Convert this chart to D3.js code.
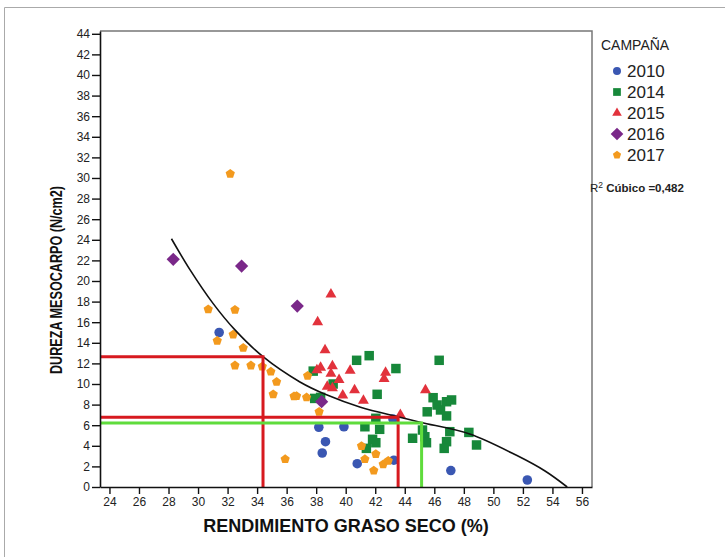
<!DOCTYPE html>
<html>
<head>
<meta charset="utf-8">
<script src="https://cdn.jsdelivr.net/npm/d3@7"></script>
<style>
  body { margin: 0; background: #fff; }
  svg { display: block; font-family: Arial, "Liberation Sans", sans-serif; }
  .tick text { fill: #222; font-size: 12px; }
</style>
</head>
<body>
<svg id="chart" width="725" height="557"></svg>
<script>
// values
const years = ["2010", "2014", "2015", "2016", "2017"];
const colors = ["#3a57b2", "#17883a", "#e2323c", "#7a2889", "#f39a1e"];

const pts2010 = [[31.43, 15.0], [38.18, 5.8], [38.63, 4.4], [38.41, 3.3], [39.88, 5.85], [40.78, 2.26],
  [43.26, 2.6], [43.2, 6.6], [47.12, 1.6], [52.3, 0.68]];
const pts2014 = [[37.8, 11.25], [37.9, 8.6], [38.3, 8.7], [39.15, 10.0], [40.74, 12.3], [41.59, 12.75],
  [43.4, 11.5], [42.13, 9.0], [46.33, 12.3], [42.04, 6.67], [41.3, 5.85], [42.3, 5.6], [41.82, 4.63],
  [42.04, 4.3], [41.4, 3.75], [44.53, 4.73], [45.2, 5.53], [45.36, 4.88], [45.47, 4.3], [45.92, 8.67],
  [46.19, 7.96], [46.83, 8.28], [47.17, 8.45], [45.52, 7.3], [46.42, 7.48], [46.83, 6.9], [47.05, 5.37],
  [46.83, 4.4], [46.67, 3.75], [48.34, 5.3], [48.86, 4.08]];
const pts2015 = [[38.1, 16.0], [39.0, 18.7], [38.6, 13.3], [38.3, 11.6], [38.05, 11.35], [39.1, 11.75],
  [39.0, 11.0], [39.55, 10.4], [40.3, 11.3], [38.75, 9.75], [39.1, 9.6], [40.6, 9.4], [42.7, 11.1],
  [42.6, 10.5], [45.4, 9.4], [39.8, 8.9], [41.2, 8.4], [43.7, 7.0]];
const pts2016 = [[28.32, 22.1], [32.95, 21.45], [36.72, 17.57], [38.37, 8.28]];
const pts2017 = [[32.18, 30.4], [30.69, 17.25], [32.5, 17.2], [31.3, 14.2], [32.38, 14.8], [33.06, 13.5],
  [32.5, 11.8], [33.58, 11.8], [34.35, 11.7], [34.93, 11.2], [35.32, 10.2], [35.09, 9.0], [36.67, 8.83],
  [36.5, 8.8], [37.35, 8.7], [37.42, 10.8], [38.2, 7.3], [35.9, 2.7], [41.07, 3.98], [42.04, 3.2],
  [41.3, 2.7], [42.54, 2.2], [42.88, 2.55], [41.9, 1.6]];

// cubic fit line
const fitX = [28.2, 29.45, 31, 32.5, 34.4, 36.9, 38.7, 41, 43.6, 45.1, 48.4, 51.6, 53.5, 55.0];
const fitY = [24.1, 21.1, 17.85, 15.25, 12.65, 10.2, 8.95, 7.75, 6.8, 6.27, 5.15, 3.05, 1.55, 0];

// guide lines: [x, y, colour]
const guides = [[34.4, 12.65, "#d7191f"], [43.55, 6.78, "#d7191f"], [45.14, 6.22, "#5fdc3c"]];

const xTicks = d3.range(24, 57, 2);
const yTicks = d3.range(0, 45, 2);

const svg = d3.select("#chart");

// outer frame
svg.append("path")
  .attr("d", "M4.5,557V7.5H725")
  .attr("fill", "none")
  .attr("stroke", "#aaa");

const x = d3.scaleLinear().domain([23.36, 56.68]).range([100, 592]);
const y = d3.scaleLinear().domain([0, 44.27]).range([487, 31]);

// top / right border of plot
svg.append("path")
  .attr("d", `M100,31H592V487`)
  .attr("fill", "none")
  .attr("stroke", "#777")
  .attr("stroke-width", 1.5);

const pentagon = {
  draw(ctx, size) {
    const r = Math.sqrt(size / 2.378);
    for (let i = 0; i < 5; i++) {
      const a = -Math.PI / 2 + i * 2 * Math.PI / 5;
      if (i === 0) ctx.moveTo(r * Math.cos(a), r * Math.sin(a));
      else ctx.lineTo(r * Math.cos(a), r * Math.sin(a));
    }
    ctx.closePath();
  }
};

const shapes = [
  {type: d3.symbolCircle, size: 72, rot: 0},
  {type: d3.symbolSquare, size: 90, rot: 0},
  {type: d3.symbolTriangle, size: 52, rot: 0},
  {type: d3.symbolSquare, size: 88, rot: 45},
  {type: pentagon, size: 56, rot: 0}
];

const series = [pts2010, pts2014, pts2015, pts2016, pts2017];

const marks = svg.append("g");
series.forEach((pts, i) => {
  marks.append("g").selectAll("path")
    .data(pts)
    .join("path")
    .attr("d", d3.symbol(shapes[i].type, shapes[i].size))
    .attr("transform", d => `translate(${x(d[0])},${y(d[1])}) rotate(${shapes[i].rot})`)
    .attr("fill", colors[i]);
});

// fit line
svg.append("path")
  .datum(d3.zip(fitX, fitY))
  .attr("d", d3.line().x(d => x(d[0])).y(d => y(d[1])).curve(d3.curveCatmullRom))
  .attr("fill", "none")
  .attr("stroke", "#111")
  .attr("stroke-width", 1.6);

// guide lines
guides.forEach(g => {
  svg.append("path")
    .attr("d", `M${x.range()[0]},${y(g[1])}H${x(g[0])}V${y(0)}`)
    .attr("fill", "none")
    .attr("stroke", g[2])
    .attr("stroke-width", 3);
});

// axes
const yAxis = svg.append("g")
  .attr("transform", "translate(100,0)")
  .call(d3.axisLeft(y).tickValues(yTicks).tickSize(8).tickSizeOuter(0).tickPadding(2));
const xAxis = svg.append("g")
  .attr("transform", "translate(0,487)")
  .call(d3.axisBottom(x).tickValues(xTicks).tickSize(7).tickSizeOuter(0).tickPadding(3));
[yAxis, xAxis].forEach(a => {
  a.select(".domain").attr("stroke", "#111").attr("stroke-width", 1.6);
  a.selectAll(".tick line").attr("stroke", "#111").attr("stroke-width", 1.4);
  a.selectAll(".tick text").attr("font-family", "Arial, 'Liberation Sans', sans-serif");
});

// axis titles
svg.append("text")
  .attr("x", 346).attr("y", 532)
  .attr("text-anchor", "middle")
  .attr("font-weight", "bold").attr("font-size", 18).attr("fill", "#111")
  .text("RENDIMIENTO GRASO SECO (%)");
svg.append("text")
  .attr("transform", "translate(62,280) rotate(-90)")
  .attr("text-anchor", "middle")
  .attr("font-weight", "bold").attr("font-size", 16.5).attr("fill", "#111")
  .attr("textLength", 188).attr("lengthAdjust", "spacingAndGlyphs")
  .text("DUREZA MESOCARPO (N/cm2)");

// legend
const legend = svg.append("g");
legend.append("text")
  .attr("x", 601).attr("y", 50)
  .attr("font-size", 14).attr("fill", "#222")
  .text("CAMPAÑA");
const legendShapes = [
  {type: d3.symbolCircle, size: 50},
  {type: d3.symbolSquare, size: 60},
  {type: d3.symbolTriangle, size: 40},
  {type: d3.symbolSquare, size: 80},
  {type: pentagon, size: 44}
];
years.forEach((yr, i) => {
  const cy = 71 + i * 21;
  legend.append("path")
    .attr("d", d3.symbol(legendShapes[i].type, legendShapes[i].size))
    .attr("transform", `translate(617,${cy}) rotate(${shapes[i].rot})`)
    .attr("fill", colors[i]);
  legend.append("text")
    .attr("x", 627).attr("y", cy + 6)
    .attr("font-size", 17).attr("fill", "#222")
    .text(yr);
});

const r2 = svg.append("text")
  .attr("x", 590).attr("y", 192)
  .attr("font-size", 11.5).attr("fill", "#222");
r2.append("tspan").text("R");
r2.append("tspan").attr("font-size", 8.5).attr("dy", -4).text("2");
r2.append("tspan").attr("dy", 4).attr("font-weight", "bold").text(" Cúbico =0,482");
</script>
</body>
</html>
